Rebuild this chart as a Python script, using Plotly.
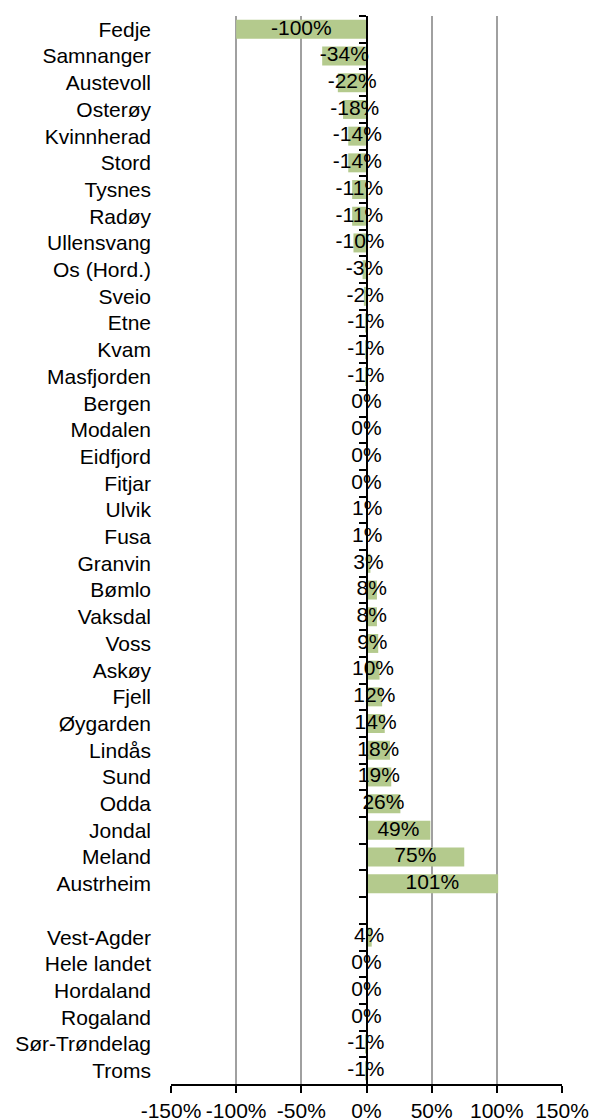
import plotly.graph_objects as go

kommuner = ["Fedje", "Samnanger", "Austevoll", "Osterøy", "Kvinnherad", "Stord", "Tysnes",
            "Radøy", "Ullensvang", "Os (Hord.)", "Sveio", "Etne", "Kvam", "Masfjorden",
            "Bergen", "Modalen", "Eidfjord", "Fitjar", "Ulvik", "Fusa", "Granvin", "Bømlo",
            "Vaksdal", "Voss", "Askøy", "Fjell", "Øygarden", "Lindås", "Sund", "Odda",
            "Jondal", "Meland", "Austrheim"]
kommune_vals = [-100, -34, -22, -18, -14, -14, -11, -11, -10, -3, -2, -1, -1, -1,
                0, 0, 0, 0, 1, 1, 3, 8, 8, 9, 10, 12, 14, 18, 19, 26, 49, 75, 101]
regioner = ["Vest-Agder", "Hele landet", "Hordaland", "Rogaland", "Sør-Trøndelag", "Troms"]
region_vals = [4, 0, 0, 0, -1, -1]

x_ticks = [-150, -100, -50, 0, 50, 100, 150]
x_ticktext = ["-150%", "-100%", "-50%", "0%", "50%", "100%", "150%"]

cats = kommuner + [" "] + regioner
vals = kommune_vals + [None] + region_vals
half = [v / 2 if v is not None else None for v in vals]
labels = [f"{v}%" if v is not None else "" for v in vals]

FONT = "Liberation Sans, Arial, sans-serif"
n = len(cats)
yrange = [n - 0.5, -0.5]

fig = go.Figure()
fig.add_trace(go.Bar(x=vals, y=cats, orientation="h", marker_color="#b4ca8d",
                     marker_line_width=0, hoverinfo="skip"))
fig.add_trace(go.Scatter(x=half, y=cats, yaxis="y2", mode="text", text=labels,
                         textposition="middle center",
                         textfont=dict(family=FONT, size=21, color="black"),
                         cliponaxis=False, hoverinfo="skip"))

fig.update_layout(
    width=591, height=1119,
    margin=dict(l=170.5, r=28.5, t=16, b=35),
    plot_bgcolor="white", paper_bgcolor="white",
    showlegend=False, bargap=0.29,
    font=dict(family=FONT, size=21, color="black"),
    xaxis=dict(range=[-150, 150], tickvals=x_ticks, ticktext=x_ticktext,
               automargin=False,
               showgrid=True, gridcolor="#a0a0a0", gridwidth=2, zeroline=False,
               showline=True, linecolor="black", linewidth=2,
               ticks="outside", ticklen=7, tickcolor="black", tickwidth=2,
               tickfont=dict(size=21), fixedrange=True),
    yaxis=dict(type="category", categoryorder="array", categoryarray=cats,
               range=yrange, showgrid=False, zeroline=False, showline=False,
               automargin=False,
               ticks="", ticklabelstandoff=19, tickfont=dict(size=21)),
    yaxis2=dict(type="category", categoryorder="array", categoryarray=cats,
                range=yrange, overlaying="y", anchor="free", position=0.5,
                side="left", showgrid=False, zeroline=False, automargin=False,
                showline=True, linecolor="black", linewidth=2,
                ticks="outside", ticklen=7, tickcolor="black", tickwidth=2,
                tickson="boundaries", showticklabels=False),
)

fig.write_html("out.html", config={"displayModeBar": False},
               post_script="document.body.style.margin='0';document.body.style.overflow='hidden';")
